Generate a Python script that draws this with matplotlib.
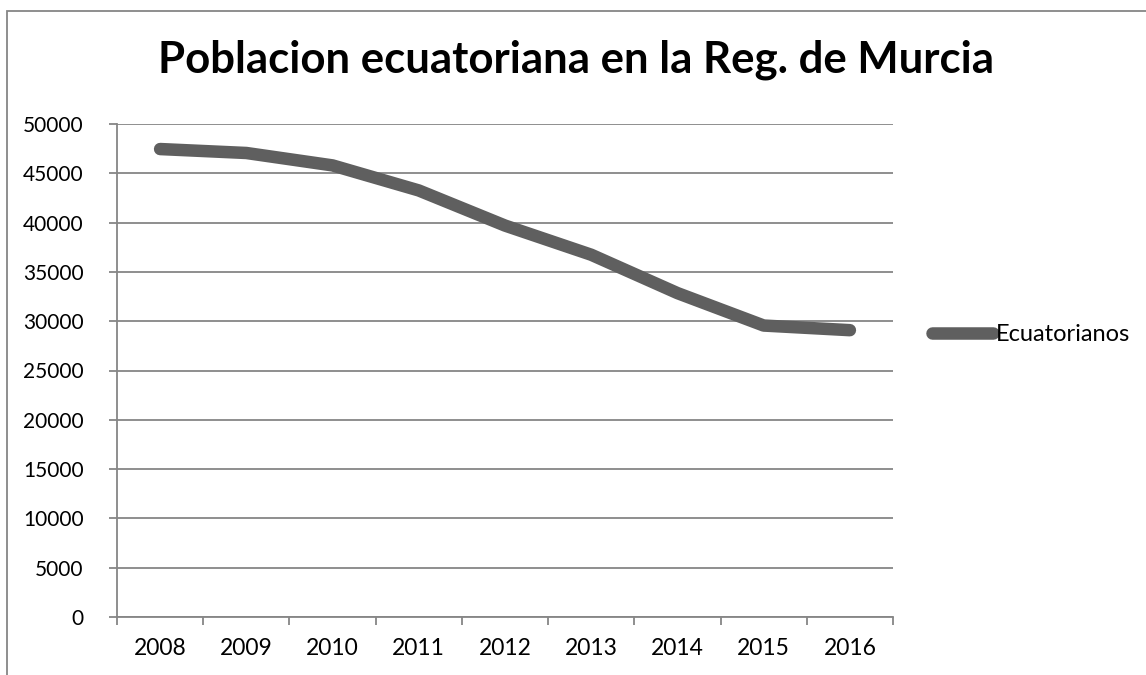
import numpy as np
import matplotlib.pyplot as plt
from matplotlib.patches import Rectangle

years = ["2008", "2009", "2010", "2011", "2012", "2013", "2014", "2015", "2016"]
ecuatorianos = [47460, 47060, 45800, 43260, 39700, 36740, 32850, 29560, 29090]
yticks = [0, 5000, 10000, 15000, 20000, 25000, 30000, 35000, 40000, 45000, 50000]

grey = '#868686'
plt.rcParams['font.family'] = ['Lato', 'DejaVu Sans']

fig = plt.figure(figsize=(11.46, 6.75), dpi=100)
ax = fig.add_axes([117/1146, 1 - 617/675, (893 - 117)/1146, (617 - 124)/675])

# chart border (only top and left visible in the reference)
fig.patches.append(Rectangle((7/1146, -0.1), 1.2, 1 - 11/675 + 0.1, transform=fig.transFigure,
                             fill=False, edgecolor=grey, lw=1.3))

x = np.arange(len(years))
ax.plot(x, ecuatorianos, color='#5f5f5f', lw=9, solid_capstyle='round',
        solid_joinstyle='round', label='Ecuatorianos')

ax.set_xlim(-0.5, len(years) - 0.5)
ax.set_ylim(0, 50000)
ax.set_yticks(yticks)
ax.set_xticks(x)
ax.set_xticklabels(years)
ax.set_xticks(np.arange(-0.5, len(years)), minor=True)
ax.tick_params(axis='x', which='major', length=0, pad=15, labelsize=16.5)
ax.tick_params(axis='x', which='minor', length=6, width=1.3, color=grey)
ax.tick_params(axis='y', length=6, width=1.3, color=grey, labelsize=15, pad=18)

ax.grid(axis='y', color=grey, lw=1.3)
ax.set_axisbelow(True)
for s in ['top', 'right']:
    ax.spines[s].set_visible(False)
for s in ['left', 'bottom']:
    ax.spines[s].set_color(grey)
    ax.spines[s].set_linewidth(1.3)

fig.text(0.5 * (163 + 988) / 1146, 1 - 60/675, 'Poblacion ecuatoriana en la Reg. de Murcia',
         ha='center', va='center', fontsize=31.5, fontweight='bold')

ax.legend(loc='center left', bbox_to_anchor=(932/1146, 1 - 335/675), bbox_transform=fig.transFigure,
          frameon=False, fontsize=17, handlelength=2.6, handletextpad=0.1, borderpad=0, borderaxespad=0)

fig.savefig('out.png', dpi=100)
